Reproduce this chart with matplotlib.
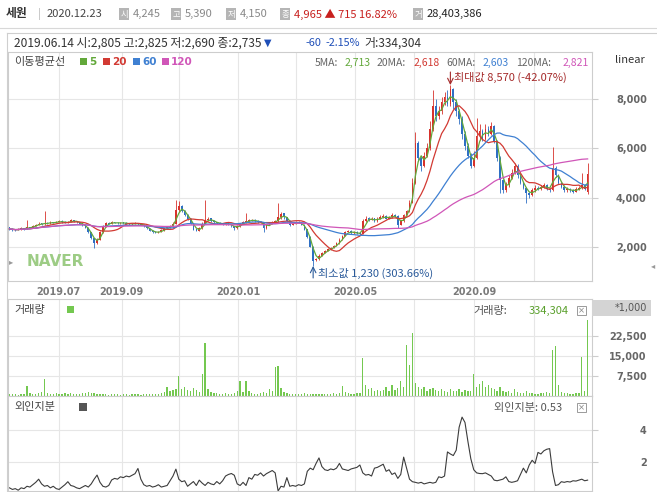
import matplotlib
matplotlib.use('Agg')
import matplotlib.pyplot as plt
from matplotlib.patches import Rectangle
import numpy as np
import pandas as pd

plt.rcParams['font.family'] = ['Noto Sans CJK KR', 'DejaVu Sans']

# ---------------- data (2-trading-day bars) ----------------
open_ = [2805,2740,2710,2690,2720,2770,2740,2810,2790,2860,2900,2960,2920,2990,2950,3010,2980,3020,3060,3010,
         2980,3010,3090,3060,3010,2960,2890,2790,2610,2360,2150,2300,2600,2850,2980,2950,3010,2990,2960,3000,
         2980,2950,2920,2940,2970,2940,2910,2860,2760,2660,2610,2580,2620,2680,2750,2800,2850,2950,3500,3650,
         3460,3310,3160,2960,2710,2650,2750,2950,3100,3160,3060,3010,2970,2960,2930,2970,2910,2860,2760,2850,
         2950,3000,3050,3080,3110,3060,3000,3010,2760,2900,2950,3000,3050,3200,3360,3210,3060,2900,2950,3010,
         2990,2910,2710,2410,2000,1460,1500,1650,1760,1850,1910,1960,2050,2150,2300,2450,2610,2660,2550,2610,
         2560,2530,3050,3160,3100,3160,3050,3150,3200,3260,3150,3200,3310,3260,2900,3050,3300,3450,3800,4600,
         6200,5600,5300,5700,6000,6800,7700,7300,7500,7900,8100,7800,8400,7900,7500,7200,6600,6100,5700,5300,
         5600,6500,6700,6400,6800,6600,6900,6300,5600,4700,4300,4500,4800,5000,5300,4900,4600,4400,4200,4100,
         4300,4400,4350,4450,4500,4350,4300,5200,4900,4600,4450,4300,4350,4300,4250,4350,4400,4500,4245]
high = [2825,2780,2730,2750,2800,2790,3100,2830,2880,2940,3000,2980,3475,3010,3050,3030,3060,3100,3080,3040,
        3050,3140,3110,3070,3020,2970,2900,2800,2620,2380,2350,2650,2900,3020,3000,3050,3030,3000,3030,3010,
        3000,2970,2980,3000,2990,2950,2920,2870,2770,2680,2630,2660,2720,2790,2840,2900,3000,3900,3850,3700,
        3500,3350,3180,2980,2720,2800,3000,3900,3200,3180,3080,3020,3000,2980,3000,2980,2930,2870,2880,2990,
        3050,3380,3120,3150,3130,3080,3060,3030,2940,2990,3040,3100,3780,3420,3380,3230,3080,2990,3040,3040,
        3010,2930,2730,2430,2020,1560,1700,1800,1890,1940,2000,2100,2200,2350,2500,2650,2700,2680,2640,2640,
        2580,3150,3250,3200,3220,3180,3200,3280,3320,3290,3260,3360,3340,3280,3100,3350,3520,3900,4800,6650,
        6300,5700,5850,6200,7100,8350,8000,7700,8100,8300,8350,8570,8450,8000,7600,7300,6700,6200,5800,5900,
        7240,7000,6800,7000,6900,7050,6950,6350,5700,4750,4650,4900,5150,5410,5350,4950,4650,4450,4250,4400,
        4500,4480,4520,4600,4550,4400,6060,5300,4950,4650,4500,4420,4400,4350,4420,4480,5000,4550,5390]
low = [2690,2660,2640,2670,2700,2700,2720,2750,2770,2840,2880,2900,2900,2940,2930,2960,2960,3000,2980,2960,
       2960,3000,3020,2980,2930,2860,2760,2580,2330,1950,2120,2280,2580,2830,2930,2930,2960,2940,2940,2950,
       2930,2900,2900,2920,2910,2880,2830,2730,2630,2570,2560,2560,2600,2660,2730,2780,2830,2920,3400,3400,
       3250,3100,2920,2680,2630,2630,2730,2930,3060,3020,2980,2940,2930,2900,2910,2880,2820,2700,2740,2830,
       2930,2980,3030,3060,3020,2970,2980,2600,2740,2880,2930,2980,3030,3150,3150,3020,2870,2880,2930,2960,
       2880,2680,2380,1980,1230,1430,1480,1630,1740,1830,1890,1940,2030,2130,2280,2430,2590,2520,2530,2520,
       2500,2520,3020,3060,3080,3020,3030,3130,3180,3130,3130,3180,3230,2750,2880,3030,3280,3420,3780,4550,
       5500,5100,5250,5650,5950,6700,7100,7200,7400,7750,7700,7700,7600,7300,7000,6400,5950,5600,5200,5250,
       5550,6350,6300,6350,6500,6550,6200,5500,4200,4190,4250,4450,4750,4950,4800,4550,4350,3800,4000,4050,
       4250,4300,4300,4400,4300,4250,4280,4850,4550,4400,4250,4250,4250,4200,4230,4300,4350,4300,4150]
close = [2735,2700,2680,2720,2760,2740,2800,2780,2850,2900,2950,2920,2980,2960,3000,2980,3020,3050,3000,2980,
         3010,3080,3050,3000,2950,2880,2780,2600,2350,2150,2300,2600,2850,2970,2950,3000,2980,2960,2990,2970,
         2950,2920,2940,2960,2930,2900,2850,2750,2650,2600,2580,2620,2680,2750,2800,2850,2950,3500,3650,3450,
         3300,3150,2950,2700,2650,2750,2950,3100,3150,3050,3000,2960,2950,2930,2960,2900,2850,2750,2850,2950,
         3000,3050,3080,3100,3050,3000,3020,2750,2900,2950,3000,3050,3200,3350,3200,3050,2900,2950,3000,2980,
         2900,2700,2400,2000,1450,1500,1650,1750,1850,1900,1950,2050,2150,2300,2450,2600,2650,2550,2600,2550,
         2520,3050,3150,3100,3150,3050,3150,3200,3250,3150,3200,3300,3250,2900,3050,3300,3450,3800,4600,6200,
         5600,5300,5700,6000,6800,7700,7300,7500,7900,8100,7800,8400,7900,7500,7200,6600,6100,5700,5300,5600,
         6500,6700,6400,6800,6600,6900,6300,5600,4700,4300,4500,4800,5000,5300,4900,4600,4400,4200,4100,4300,
         4400,4350,4450,4500,4350,4300,5200,4900,4600,4450,4300,4350,4300,4250,4350,4400,4500,4350,4965]
volume = [700,600,800,500,600,900,3900,1000,700,800,1200,1500,6500,1200,900,800,1100,700,900,1000,
          800,1300,900,700,800,1000,1200,1500,1100,1300,900,800,700,600,500,700,600,800,500,600,
          700,500,600,800,600,500,700,900,800,700,600,900,1200,1500,3300,1800,2200,2800,7400,2500,
          3300,2400,2000,2900,2300,1500,8400,19800,2500,1500,1200,1000,900,800,1000,900,800,1200,2000,5600,
          1500,5800,1800,1200,900,800,1000,1500,1200,2500,2000,10700,11200,3000,1500,1000,900,800,700,900,
          800,1000,900,700,800,900,700,800,900,700,800,1000,900,1200,3700,1500,1000,800,900,1000,
          1200,14100,4000,2500,3000,2000,2400,1800,2200,3300,2000,4000,2200,3000,5800,3500,19200,11500,23600,5000,
          3500,2500,3300,2000,2800,3000,2200,1800,2600,2000,1500,2800,2000,1800,2500,1500,2200,1800,2000,8100,
          3300,4500,5800,3500,4000,3000,2500,2000,3500,2000,1500,1800,1200,2500,1500,1200,1000,1800,1200,1000,
          800,900,1200,1000,1500,1300,17300,18600,4000,1500,1200,1000,800,900,1000,1200,14700,2000,28400]
foreign = [0.35,0.25,0.3,0.2,0.35,0.3,0.45,0.4,0.55,0.7,0.9,0.6,0.45,0.5,0.35,0.45,0.3,0.25,0.4,0.55,
           0.74,0.5,0.45,0.35,0.3,0.4,0.5,0.4,0.6,0.9,1.16,0.7,0.45,0.4,0.5,0.85,0.95,0.9,1.05,1.0,
           1.1,1.05,1.15,1.25,1.58,0.9,0.55,0.45,0.5,0.4,0.45,0.55,0.4,0.45,0.5,0.8,1.1,1.54,0.9,0.74,
           0.8,0.45,0.6,0.75,0.5,0.84,0.65,0.5,0.7,0.6,0.55,0.75,0.6,0.8,1.1,1.2,1.26,1.15,0.6,0.5,
           0.7,0.5,1.0,0.9,1.2,1.15,1.3,1.1,1.25,1.35,1.45,1.3,0.15,0.45,0.4,1.0,0.45,0.5,0.45,0.55,
           0.5,0.6,1.4,1.6,1.5,1.9,2.25,1.7,1.5,1.45,1.55,1.5,1.6,1.9,1.55,1.5,1.45,1.55,1.6,1.65,
           1.8,1.3,1.16,1.2,1.1,1.6,1.65,1.75,1.85,1.4,1.5,1.2,1.3,0.95,1.2,2.3,1.6,0.9,0.74,0.7,
           0.65,0.7,0.6,0.65,0.7,0.65,0.7,1.05,1.0,1.1,2.63,2.5,2.4,2.74,4.2,4.84,4.5,3.3,2.2,1.5,
           1.3,1.26,1.25,1.3,1.2,1.1,0.84,0.8,0.85,0.9,1.05,0.75,0.7,0.74,0.8,1.2,1.6,1.3,1.8,2.1,
           1.9,2.6,2.5,2.7,2.8,2.84,1.37,0.5,0.55,0.74,0.7,0.75,0.72,0.8,0.78,0.84,0.9,0.8,0.84]
ma_names = ['5', '20', '60', '120']
ma_bars = [3, 10, 30, 60]          # windows in 2-day bars
ma_values_text = ['2,713', '2,618', '2,603', '2,821']
date_labels = ['2019.07', '2019.09', '2020.01', '2020.05', '2020.09']
price_ticks = [2000, 4000, 6000, 8000]
vol_ticks = [7500, 15000, 22500]
for_ticks = [2, 4]

# ---------------- layout helpers ----------------
W, H = 657, 492
fig = plt.figure(figsize=(W / 100, H / 100), dpi=100)
fig.patch.set_facecolor('white')

def fx(x): return x / W
def fy(y): return 1 - y / H
def add_ax(x0, y0, x1, y1):
    return fig.add_axes([fx(x0), fy(y1), (x1 - x0) / W, (y1 - y0) / H])
def ftext(x, y, s, **kw):
    kw.setdefault('va', 'center')
    kw.setdefault('ha', 'left')
    return fig.text(fx(x), fy(y), s, **kw)
def frect(x0, y0, x1, y1, **kw):
    fig.patches.append(Rectangle((fx(x0), fy(y1)), (x1 - x0) / W, (y1 - y0) / H,
                                 transform=fig.transFigure, figure=fig, **kw))
def fline(x0, y0, x1, y1, **kw):
    fig.add_artist(plt.Line2D([fx(x0), fx(x1)], [fy(y0), fy(y1)], transform=fig.transFigure, **kw))

RED = '#d7322c'
BLUE = '#2e6fc4'
MA_COLORS = ['#62a83a', '#d23a33', '#3f80d2', '#d056b8']
GRID = '#e6e6e6'
SPINE = '#cdcdcd'
grid_pos = [16.8, 38.4, 58.2, 78.4, 98.3, 118.5, 138.7, 159.2, 179.5]
label_pos = [16.8, 38.4, 78.4, 118.5, 159.2]

o = np.array(open_, float); c = np.array(close, float)
h = np.array(high, float); l = np.array(low, float)
x = np.arange(len(c))
XL = (-0.5, 199.5)

def style_axis(ax, ticks, fmt, ylim):
    ax.set_xlim(*XL)
    ax.set_ylim(*ylim)
    ax.yaxis.tick_right()
    ax.set_yticks(ticks)
    ax.set_yticklabels([fmt(t) for t in ticks])
    ax.tick_params(axis='y', length=4, color=SPINE, pad=35.5, labelsize=7, labelcolor='#666666')
    for lb in ax.get_yticklabels():
        lb.set_ha('right'); lb.set_fontweight('bold'); lb.set_family('DejaVu Sans')
    for t in ticks:
        ax.axhline(t, color=GRID, lw=0.8, zorder=0)
    for g in grid_pos:
        ax.axvline(g, color=GRID, lw=0.8, zorder=0)
    for s in ax.spines.values():
        s.set_color(SPINE); s.set_linewidth(0.8)

# ---------------- price panel ----------------
ax_p = add_ax(8, 52, 592, 281)
style_axis(ax_p, price_ticks, lambda t: f'{t:,}', (620, 9910))
ax_p.set_xticks(label_pos)
ax_p.set_xticklabels(date_labels)
ax_p.tick_params(axis='x', length=0, pad=4, labelsize=7, labelcolor='#7a7a7a')
for lb in ax_p.get_xticklabels():
    lb.set_fontweight('bold'); lb.set_family('DejaVu Sans')

up = c >= o
cols = np.where(up, RED, BLUE)
ax_p.vlines(x, l, h, colors=cols, lw=0.6, zorder=2)
ax_p.bar(x, np.maximum(np.abs(c - o), 30), bottom=np.minimum(o, c), width=0.55,
         color=cols, linewidth=0, zorder=2)
s = pd.Series(c)
for w, col in zip(ma_bars, MA_COLORS):
    ax_p.plot(x, s.rolling(w, min_periods=1).mean(), color=col, lw=0.9, zorder=3)

imax = int(np.argmax(h)); imin = int(np.argmin(l))
ax_p.annotate('', xy=(imax, h[imax]), xytext=(0, 13), textcoords='offset pixels',
              arrowprops=dict(arrowstyle='->', color='#a52a2a', lw=0.8, shrinkA=0, shrinkB=0))
ax_p.annotate(f'최대값 {int(h[imax]):,} (-42.07%)', xy=(imax, h[imax]), xytext=(4, 8),
              textcoords='offset pixels', ha='left', va='center', fontsize=8, color='#a52a2a')
ax_p.annotate('', xy=(imin, l[imin]), xytext=(0, -12), textcoords='offset pixels',
              arrowprops=dict(arrowstyle='->', color='#2a5a9a', lw=0.8, shrinkA=0, shrinkB=0))
ax_p.annotate(f'최소값 {int(l[imin]):,} (303.66%)', xy=(imin, l[imin]), xytext=(5, -7),
              textcoords='offset pixels', ha='left', va='center', fontsize=8, color='#2a5a9a')

ftext(27, 262, 'NAVER', fontsize=11, fontweight='bold', color='#9dcc85', family='DejaVu Sans')
ftext(9, 262, '▸', fontsize=6, color='#999999', family='DejaVu Sans')
ftext(651, 266, '◂', fontsize=6, color='#999999', family='DejaVu Sans')

# legend row
ftext(14, 62, '이동평균선', fontsize=8, color='#444444')
leg_x = [80, 103, 133, 162]
for lx, name, col in zip(leg_x, ma_names, MA_COLORS):
    frect(lx, 58, lx + 7, 65, color=col, lw=0)
    ftext(lx + 9, 62, name, fontsize=7.5, fontweight='bold', color=col, family='DejaVu Sans')
val_x = [(315, 345), (377, 414), (446, 483), (516, 563)]
for (lx, vx), name, val, col in zip(val_x, ma_names, ma_values_text, MA_COLORS):
    ftext(lx, 63, f'{name}MA:', fontsize=7.5, color='#666666')
    ftext(vx, 63, val, fontsize=7.5, color=col)
ftext(630, 60, 'linear', fontsize=8, color='#333333', ha='center')

# ---------------- volume panel ----------------
ax_v = add_ax(8, 299, 592, 396)
style_axis(ax_v, vol_ticks, lambda t: f'{t:,}', (0, 36400))
ax_v.set_xticks([])
ax_v.bar(x, volume, width=0.45, color='#74c850', linewidth=0, zorder=2)
frect(592, 300, 651, 316, color='#d4d4d4', lw=0)
ftext(647, 308, '*1,000', fontsize=7, color='#555555', ha='right', family='DejaVu Sans')
ftext(14, 310, '거래량', fontsize=8, color='#444444')
frect(67, 306, 74, 313, color='#74c850', lw=0)
ftext(473, 311, '거래량:', fontsize=8, color='#555555')
ftext(529, 311, f'{334304:,}', fontsize=8, color='#5aa02c')

# ---------------- foreign ownership panel ----------------
ax_f = add_ax(8, 396, 592, 491)
style_axis(ax_f, for_ticks, lambda t: f'{t}', (0.15, 6.18))
ax_f.set_xticks([])
ax_f.plot(x, foreign, color='#3c3c3c', lw=0.8, zorder=2)
ftext(14, 407, '외인지분', fontsize=8, color='#444444')
frect(79, 403, 87, 411, color='#555555', lw=0)
ftext(494, 408, '외인지분: 0.53', fontsize=8, color='#555555')

for yy in (311, 408):
    frect(577, yy - 5, 586, yy + 4, fill=False, ec='#9a9a9a', lw=0.7)
    ftext(581.5, yy - 0.5, '×', fontsize=6, color='#888888', ha='center', family='DejaVu Sans')

# ---------------- header ----------------
ftext(6, 14, '세원', fontsize=8.5, fontweight='bold', color='#333333')
ftext(38, 14, '|', fontsize=8, color='#bbbbbb')
ftext(47, 14, '2020.12.23', fontsize=8, color='#444444')
icons = [(119, '시', '4,245', '#888888'), (171, '고', '5,390', '#888888'),
         (226, '저', '4,150', '#888888'), (280, '종', '4,965 ▲ 715 16.82%', '#c8201e'),
         (413, '거', '28,403,386', '#222222')]
for ix, ch, val, col in icons:
    frect(ix, 8, ix + 10, 20, color='#b5b5b5', lw=0)
    ftext(ix + 5, 14, ch, fontsize=6, color='white', ha='center')
    ftext(ix + 14, 14, val, fontsize=8, color=col)
fline(0, 28, W, 28, color='#d8d8d8', lw=0.8)

# info row
fline(7, 33, W, 33, color='#cfcfcf', lw=0.8)
fline(7, 33, 7, 491, color='#cfcfcf', lw=0.8)
ftext(14, 43, '2019.06.14 시:2,805 고:2,825 저:2,690 종:2,735', fontsize=8.6, color='#333333')
ftext(264, 43, '▼', fontsize=7, color='#1f4fb8', family='DejaVu Sans')
ftext(306, 43, '-60', fontsize=7.8, color='#1f4fb8')
ftext(326, 43, '-2.15%', fontsize=7.8, color='#1f4fb8')
ftext(364, 43, '거:334,304', fontsize=8.6, color='#333333')

fig.savefig('out.png', dpi=100)
